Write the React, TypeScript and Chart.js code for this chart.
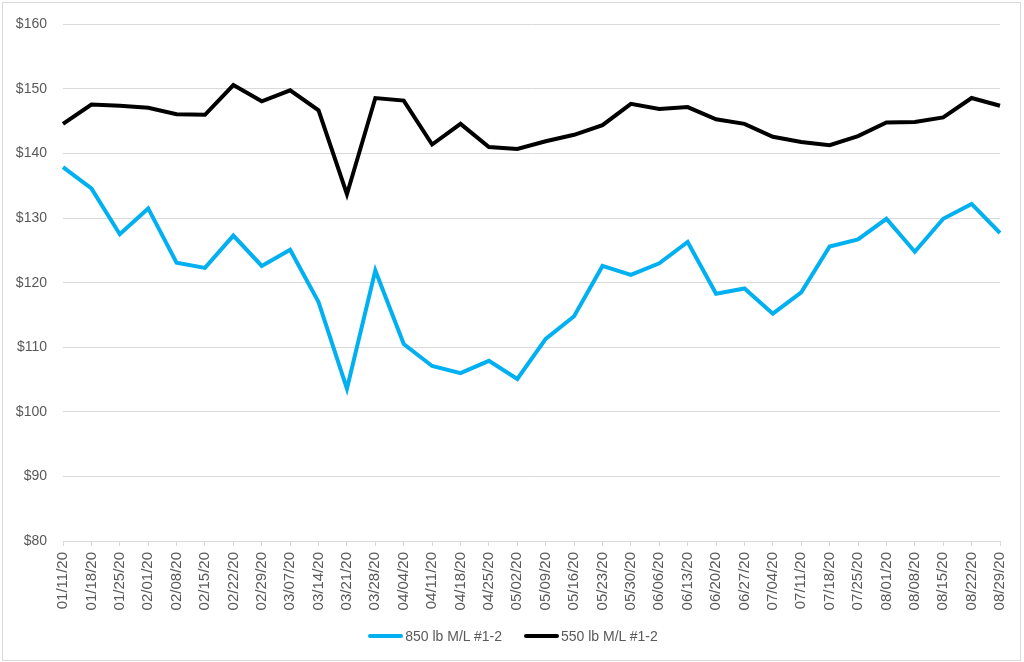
import React, { useEffect, useRef } from "react";
import { Chart, registerables } from "chart.js";

Chart.register(...registerables);

const categories = [
  "01/11/20", "01/18/20", "01/25/20", "02/01/20", "02/08/20", "02/15/20", "02/22/20", "02/29/20",
  "03/07/20", "03/14/20", "03/21/20", "03/28/20", "04/04/20", "04/11/20", "04/18/20", "04/25/20",
  "05/02/20", "05/09/20", "05/16/20", "05/23/20", "05/30/20", "06/06/20", "06/13/20", "06/20/20",
  "06/27/20", "07/04/20", "07/11/20", "07/18/20", "07/25/20", "08/01/20", "08/08/20", "08/15/20",
  "08/22/20", "08/29/20",
];

const series850 = [
  137.9, 134.6, 127.5, 131.5, 123.1, 122.3, 127.3, 122.6,
  125.1, 117.0, 103.6, 121.9, 110.5, 107.1, 106.0, 107.9,
  105.1, 111.3, 114.8, 122.6, 121.2, 123.0, 126.3, 118.3,
  119.1, 115.2, 118.5, 125.6, 126.7, 129.9, 124.8, 129.9,
  132.2, 127.7,
];

const series550 = [
  144.6, 147.6, 147.4, 147.1, 146.1, 146.0, 150.6, 148.1,
  149.8, 146.7, 133.7, 148.6, 148.2, 141.4, 144.6, 141.0,
  140.7, 141.9, 142.9, 144.4, 147.7, 146.9, 147.2, 145.3,
  144.6, 142.6, 141.8, 141.3, 142.7, 144.8, 144.9, 145.6,
  148.6, 147.4,
];

const seriesNames = ["850 lb M/L #1-2", "550 lb M/L #1-2"];
const seriesColors = ["#00B0F0", "#000000"];
const yMin = 80;
const yMax = 160;
const yStep = 10;

const FONT = "'Liberation Sans', 'DejaVu Sans', sans-serif";

export default function App() {
  const canvasRef = useRef<HTMLCanvasElement | null>(null);

  useEffect(() => {
    document.body.style.margin = "0";
    const canvas = canvasRef.current;
    if (!canvas) return;
    const chart = new Chart(canvas, {
      type: "line",
      data: {
        labels: categories,
        datasets: [
          {
            label: seriesNames[0],
            data: series850,
            borderColor: seriesColors[0],
            backgroundColor: seriesColors[0],
            borderWidth: 4,
            pointRadius: 0,
            tension: 0,
          },
          {
            label: seriesNames[1],
            data: series550,
            borderColor: seriesColors[1],
            backgroundColor: seriesColors[1],
            borderWidth: 4,
            pointRadius: 0,
            tension: 0,
          },
        ],
      },
      options: {
        responsive: false,
        animation: false,
        devicePixelRatio: 1,
        layout: { padding: { top: 18, right: 23, bottom: 43, left: 0 } },
        plugins: {
          tooltip: { enabled: false },
          legend: { display: false },
        },
        scales: {
          x: {
            type: "category",
            offset: false,
            grid: {
              display: true,
              drawOnChartArea: false,
              drawTicks: true,
              tickLength: 5,
              color: "#d9d9d9",
            },
            border: { display: true, color: "#d9d9d9", width: 1 },
            ticks: {
              autoSkip: false,
              minRotation: 90,
              maxRotation: 90,
              padding: 6,
              color: "#595959",
              font: { family: FONT, size: 15 },
            },
            afterFit: (s: any) => {
              s.height = 78;
            },
          },
          y: {
            min: yMin,
            max: yMax,
            grid: {
              color: "#d9d9d9",
              lineWidth: 1,
              drawTicks: false,
            },
            border: { display: false },
            ticks: {
              stepSize: yStep,
              padding: 16,
              color: "#595959",
              font: { family: FONT, size: 14 },
              callback: (v: any) => "$" + v,
            },
            afterFit: (s: any) => {
              s.width = 63;
            },
          },
        },
      },
    });
    return () => chart.destroy();
  }, []);

  return (
    <div style={{ position: "relative", width: 1024, height: 662, background: "#fff" }}>
      <canvas ref={canvasRef} width={1024} height={662} style={{ position: "absolute", left: 0, top: 0 }} />
      <div
        style={{
          position: "absolute",
          left: 0,
          width: 1026,
          top: 626,
          height: 20,
          display: "flex",
          justifyContent: "center",
          alignItems: "center",
          gap: 22,
          fontFamily: FONT,
          fontSize: 14,
          color: "#595959",
        }}
      >
        {seriesNames.map((n, i) => (
          <div key={n} style={{ display: "flex", alignItems: "center" }}>
            <div style={{ width: 35, height: 4, background: seriesColors[i], borderRadius: 2, marginRight: 2 }} />
            <span>{n}</span>
          </div>
        ))}
      </div>
      <div
        style={{
          position: "absolute",
          left: 2,
          top: 2,
          width: 1017,
          height: 657,
          border: "1px solid #d9d9d9",
          pointerEvents: "none",
        }}
      />
    </div>
  );
}
